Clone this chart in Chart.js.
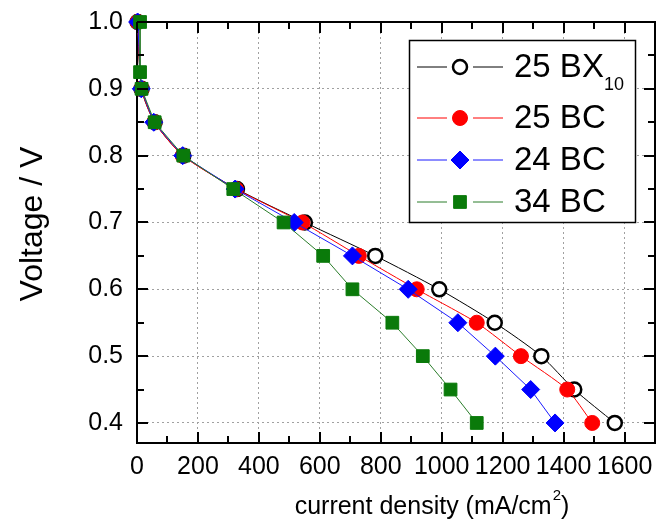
<!DOCTYPE html>
<html>
<head>
<meta charset="utf-8">
<script src="https://cdn.jsdelivr.net/npm/chart.js@4.4.0/dist/chart.umd.min.js"></script>
<style>
  html, body { margin: 0; padding: 0; background: #fff; }
</style>
</head>
<body>
<canvas id="myChart1" width="665" height="525"></canvas>
<script>
// voltage steps (V) and current density (mA/cm2)
const voltage = [1.0, 0.9, 0.85, 0.8, 0.75, 0.7, 0.65, 0.6, 0.55, 0.5, 0.45, 0.4]
const voltage34 = [1.0, 0.925, 0.9, 0.85, 0.8, 0.75, 0.7, 0.65, 0.6, 0.55, 0.5, 0.45, 0.4]
const bx10_25 = [2, 15, 58, 152, 328, 551, 782, 992, 1174, 1327, 1435, 1568]
const bc25 = [2, 15, 57, 150, 325, 543, 728, 918, 1115, 1260, 1412, 1494]
const bc24 = [2, 14, 55, 150, 322, 516, 707, 890, 1053, 1176, 1292, 1372]
const bc34 = [10, 10, 15, 58, 152, 316, 481, 611, 707, 838, 938, 1029, 1115]

const seriesLabels = ['25 BX', '25 BC', '24 BC', '34 BC']
const seriesSubs = ['10', '', '', '']
const xTicks = [0, 200, 400, 600, 800, 1000, 1200, 1400, 1600]
const yTicks = [0.4, 0.5, 0.6, 0.7, 0.8, 0.9, 1.0]

const FONT = '"Liberation Sans", Arial, Helvetica, sans-serif'

function pts(xs, ys) {
    return xs.map((v, i) => ({ x: v, y: ys[i] }))
}

// frame, inward ticks, legend box and axis titles
const decor = {
    id: 'decor',
    beforeDatasetsDraw(chart) {
        const c = chart.ctx
        const a = chart.chartArea
        c.save()
        c.strokeStyle = '#000000'
        c.lineWidth = 2
        c.strokeRect(a.left, a.top, a.right - a.left, a.bottom - a.top)
        c.restore()
    },
    afterDatasetsDraw(chart) {
        const c = chart.ctx
        const rows = [67, 118, 160, 202]
        c.save()
        c.setLineDash([])
        c.fillStyle = '#fff'
        c.fillRect(409, 40, 226, 182)
        c.strokeStyle = '#000'
        c.lineWidth = 1.5
        c.strokeRect(409.5, 40.5, 226, 182)
        chart.data.datasets.forEach((ds, i) => {
            const yy = rows[i]
            c.strokeStyle = ds.borderColor
            c.lineWidth = 1
            c.beginPath()
            c.moveTo(417, yy); c.lineTo(447, yy)
            c.moveTo(473, yy); c.lineTo(503, yy)
            c.stroke()
            c.fillStyle = ds.pointBackgroundColor
            c.strokeStyle = ds.pointBorderColor
            c.lineWidth = ds.pointBorderWidth
            Chart.helpers.drawPoint(c, {
                pointStyle: ds.pointStyle,
                radius: ds.pointRadius,
                rotation: 0,
                borderWidth: ds.pointBorderWidth
            }, 460, yy)
            c.fillStyle = '#000'
            c.textBaseline = 'middle'
            c.textAlign = 'left'
            c.font = '33px ' + FONT
            c.fillText(seriesLabels[i], 514, yy + 1)
            if (seriesSubs[i]) {
                const w = c.measureText(seriesLabels[i]).width
                c.font = '18px ' + FONT
                c.fillText(seriesSubs[i], 514 + w, yy + 18)
            }
        })
        c.restore()
    },
    afterDraw(chart) {
        const c = chart.ctx
        const area = chart.chartArea
        const sx = chart.scales.x, sy = chart.scales.y

        // inward tick marks on all four sides
        c.save()
        c.setLineDash([])
        c.strokeStyle = '#000000'
        c.lineWidth = 2
        for (let v = 0; v <= 1700; v += 100) {
            const px = Math.round(sx.getPixelForValue(v))
            const len = v % 200 === 0 ? 11 : 7
            c.beginPath()
            c.moveTo(px, area.bottom); c.lineTo(px, area.bottom - len)
            c.moveTo(px, area.top); c.lineTo(px, area.top + len)
            c.stroke()
        }
        for (let i = 8; i <= 20; i++) {
            const py = Math.round(sy.getPixelForValue(i * 0.05))
            const len = i % 2 === 0 ? 11 : 7
            c.beginPath()
            c.moveTo(area.left, py); c.lineTo(area.left + len, py)
            c.moveTo(area.right, py); c.lineTo(area.right - len, py)
            c.stroke()
        }
        c.restore()

        c.save()
        c.fillStyle = '#000'
        c.textBaseline = 'alphabetic'
        // x title with superscript
        const a = 'current density (mA/cm', b = ')'
        c.font = '25px ' + FONT
        const wa = c.measureText(a).width
        const wb = c.measureText(b).width
        c.font = '15px ' + FONT
        const ws = c.measureText('2').width
        const x0 = 432 - (wa + ws + wb + 1) / 2
        c.font = '25px ' + FONT
        c.fillText(a, x0, 514)
        c.font = '15px ' + FONT
        c.fillText('2', x0 + wa + 1, 500)
        c.font = '25px ' + FONT
        c.fillText(b, x0 + wa + ws + 1, 514)
        // y title
        c.translate(33, 224)
        c.rotate(-Math.PI / 2)
        c.textAlign = 'center'
        c.textBaseline = 'middle'
        c.font = '32px ' + FONT
        c.fillText('Voltage / V', 0, 0)
        c.restore()
    }
}

const ctx = document.getElementById('myChart1')

const myChart = new Chart(ctx, {
    type: 'line',
    data: {
        datasets: [{
            label: '25 BX10',
            data: pts(bx10_25, voltage),
            borderColor: '#000000',
            borderWidth: 1,
            tension: 0.25,
            pointStyle: 'circle',
            pointRadius: 7,
            pointBackgroundColor: '#ffffff',
            pointBorderColor: '#000000',
            pointBorderWidth: 2.5,
            order: 4
        }, {
            label: '25 BC',
            data: pts(bc25, voltage),
            borderColor: '#ff0000',
            borderWidth: 1,
            tension: 0.2,
            pointStyle: 'circle',
            pointRadius: 7.5,
            pointBackgroundColor: '#ff0000',
            pointBorderColor: '#ff0000',
            pointBorderWidth: 1,
            order: 3
        }, {
            label: '24 BC',
            data: pts(bc24, voltage),
            borderColor: '#1a1aff',
            borderWidth: 1,
            tension: 0,
            pointStyle: 'rectRot',
            pointRadius: 9,
            pointBackgroundColor: '#0000ff',
            pointBorderColor: '#0000ff',
            pointBorderWidth: 1,
            order: 2
        }, {
            label: '34 BC',
            data: pts(bc34, voltage34),
            borderColor: '#2a7d2a',
            borderWidth: 1,
            tension: 0,
            pointStyle: 'rect',
            pointRadius: 9,
            pointBackgroundColor: '#0a7a0a',
            pointBorderColor: '#0a7a0a',
            pointBorderWidth: 1,
            order: 1
        }]
    },
    options: {
        responsive: false,
        animation: false,
        clip: false,
        layout: { padding: { top: 22, right: 1, left: 0, bottom: 0 } },
        scales: {
            x: {
                type: 'linear',
                min: 0,
                max: 1700,
                afterFit: (s) => { s.height = 82; s.paddingLeft = 0; s.paddingRight = 0 },
                afterBuildTicks: (s) => { s.ticks = xTicks.map(v => ({ value: v })) },
                grid: { color: '#a0a0a0', lineWidth: 1, drawTicks: false },
                border: { display: false, dash: [2, 3] },
                ticks: {
                    color: '#000',
                    padding: 9,
                    maxRotation: 0,
                    autoSkip: false,
                    font: { family: FONT, size: 25 },
                    callback: (v) => String(v)
                }
            },
            y: {
                type: 'linear',
                min: 0.37,
                max: 1.0,
                afterFit: (s) => { s.width = 137; s.paddingTop = 0; s.paddingBottom = 0 },
                afterBuildTicks: (s) => { s.ticks = yTicks.map(v => ({ value: v })) },
                grid: { color: '#a0a0a0', lineWidth: 1, drawTicks: false },
                border: { display: false, dash: [2, 3] },
                ticks: {
                    color: '#000',
                    padding: 14,
                    autoSkip: false,
                    font: { family: FONT, size: 25 },
                    callback: (v) => v.toFixed(1)
                }
            }
        },
        plugins: {
            legend: { display: false },
            tooltip: { enabled: false }
        }
    },
    plugins: [decor]
})
</script>
</body>
</html>
